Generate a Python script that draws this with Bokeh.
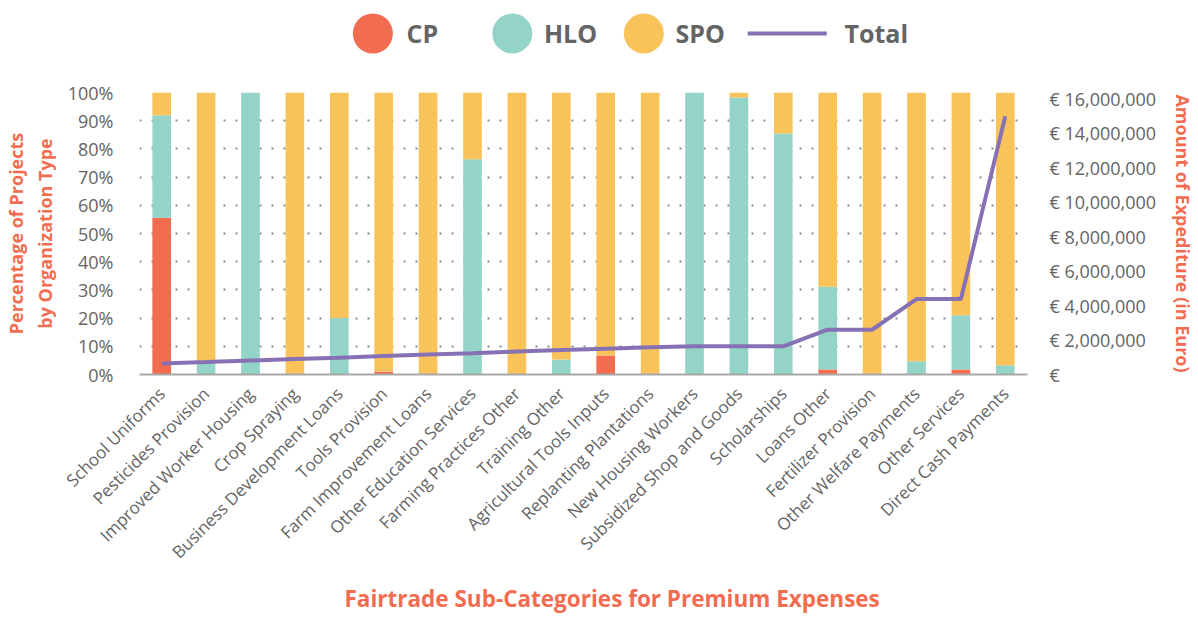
from bokeh.plotting import figure
from bokeh.models import ColumnDataSource, Range1d, LinearAxis, FixedTicker, FactorRange, Title
from bokeh.layouts import column
from bokeh.embed import file_html
from bokeh.resources import INLINE
from bokeh.core.properties import value
from math import pi

categories = ["School Uniforms", "Pesticides Provision", "Improved Worker Housing",
              "Crop Spraying", "Business Development Loans", "Tools Provision",
              "Farm Improvement Loans", "Other Education Services", "Farming Practices Other",
              "Training Other", "Agricultural Tools Inputs", "Replanting Plantations",
              "New Housing Workers", "Subsidized Shop and Goods", "Scholarships",
              "Loans Other", "Fertilizer Provision", "Other Welfare Payments",
              "Other Services", "Direct Cash Payments"]
cp  = [55.6, 0, 0, 0, 0, 1.1, 0, 0, 0, 0, 6.7, 0, 0, 0, 0, 1.8, 0, 0, 1.8, 0]
hlo = [36.3, 4.5, 100, 0, 20, 0, 0, 76.3, 0, 5.3, 0, 0, 100, 98.2, 85.5, 29.3, 0, 4.7, 19.2, 3.3]
spo = [8.1, 95.5, 0, 100, 80, 98.9, 100, 23.7, 100, 94.7, 93.3, 100, 0, 1.8, 14.5, 68.9, 100, 95.3, 79, 96.7]
total_eur = [640000, 720000, 810000, 900000, 980000, 1070000, 1160000, 1240000, 1330000, 1420000,
             1500000, 1580000, 1640000, 1640000, 1640000, 2600000, 2600000, 4380000, 4380000, 15000000]

series = ["CP", "HLO", "SPO"]
line_name = "Total"
pct_ticks = [0, 10, 20, 30, 40, 50, 60, 70, 80, 90, 100]
pct_labels = ["0%", "10%", "20%", "30%", "40%", "50%", "60%", "70%", "80%", "90%", "100%"]
eur_ticks = [0, 2000000, 4000000, 6000000, 8000000, 10000000, 12000000, 14000000, 16000000]
eur_labels = ["€", "€ 2,000,000", "€ 4,000,000", "€ 6,000,000", "€ 8,000,000",
              "€ 10,000,000", "€ 12,000,000", "€ 14,000,000", "€ 16,000,000"]
x_title = "Fairtrade Sub-Categories for Premium Expenses"
y_title = "Percentage of Projects\nby Organization Type"
y2_title = "Amount of Expediture (in Euro)"

colors = ["#F26C4F", "#94D3C7", "#F9C35A"]
line_color = "#8671B5"
title_color = "#F26C4F"
text_color = "#646464"
FONT = "Open Sans"

src = ColumnDataSource(dict(cat=categories, CP=cp, HLO=hlo, SPO=spo, total=total_eur))

W, H_LEG, H_MAIN = 1198, 60, 559
p = figure(x_range=FactorRange(factors=categories), y_range=Range1d(0, 100),
           width=W, height=H_MAIN, output_backend="svg", toolbar_location=None,
           min_border_left=137, min_border_right=163, min_border_top=32, min_border_bottom=244)
p.outline_line_color = None
p.extra_y_ranges = {"eur": Range1d(0, 16380000)}

p.vbar_stack(series, x="cat", width=0.42, color=colors, line_color=None, source=src)
p.line(x="cat", y="total", source=src, y_range_name="eur", line_width=4, line_color=line_color)

p.xgrid.visible = False
p.ygrid.ticker = FixedTicker(ticks=pct_ticks)
p.ygrid.grid_line_color = "#8a8a8a"
p.ygrid.grid_line_width = 2
p.ygrid.grid_line_dash = "2 10"

# left axis
ya = p.yaxis[0]
ya.ticker = FixedTicker(ticks=pct_ticks)
ya.major_label_overrides = dict(zip(pct_ticks, pct_labels))
ya.axis_line_color = None
ya.major_tick_line_color = None
ya.minor_tick_line_color = None
ya.major_label_standoff = 20
ya.major_label_text_font = FONT
ya.major_label_text_font_size = "18px"
ya.major_label_text_color = text_color
ya.axis_label = y_title
ya.axis_label_text_font = FONT
ya.axis_label_text_font_size = "18px"
ya.axis_label_text_font_style = "bold"
ya.axis_label_text_color = title_color
ya.axis_label_standoff = 8

# right axis
ra = LinearAxis(y_range_name="eur", ticker=FixedTicker(ticks=eur_ticks))
ra.major_label_overrides = dict(zip(eur_ticks, eur_labels))
ra.axis_line_color = None
ra.major_tick_line_color = None
ra.minor_tick_line_color = None
ra.major_label_standoff = 16
ra.major_label_text_font = FONT
ra.major_label_text_font_size = "18px"
ra.major_label_text_color = text_color
ra.axis_label = y2_title
ra.axis_label_text_font = FONT
ra.axis_label_text_font_size = "18px"
ra.axis_label_text_font_style = "bold"
ra.axis_label_text_color = title_color
ra.axis_label_standoff = 12
p.add_layout(ra, "right")

# bottom axis
xa = p.xaxis[0]
xa.axis_line_color = "#a8a8a8"
xa.axis_line_width = 2
xa.major_tick_line_color = None
xa.minor_tick_line_color = None
xa.major_label_orientation = pi / 4
xa.major_label_standoff = 10
xa.major_label_text_font = FONT
xa.major_label_text_font_size = "17px"
xa.major_label_text_color = text_color

# bottom title
p.add_layout(Title(text=x_title, align="left", offset=205, standoff=12,
                   text_font=FONT, text_font_size="22.5px", text_font_style="bold",
                   text_color=title_color), "below")

# legend strip (frame aligned with the main frame, page-pixel coordinates)
lg = figure(width=W, height=H_LEG, x_range=Range1d(137, 1035), y_range=Range1d(0, H_LEG),
            output_backend="svg", toolbar_location=None, min_border=0)
lg.outline_line_color = None
lg.axis.visible = False
lg.grid.visible = False
lg.scatter(x=[373, 514, 647], y=[27, 27, 27], size=40, marker="circle",
           color=colors, line_color=None)
lg.segment(x0=[752], y0=[27], x1=[832], y1=[27], line_width=4, line_color=line_color)
lg.text(x=[407, 546, 679, 850], y=[28, 28, 28, 28], text=series + [line_name],
        text_baseline="middle", text_align="left", text_font=value(FONT),
        text_font_size="25px", text_font_style="bold", text_color=text_color)

layout = column(lg, p)
open("out.html", "w").write(file_html(layout, INLINE))
